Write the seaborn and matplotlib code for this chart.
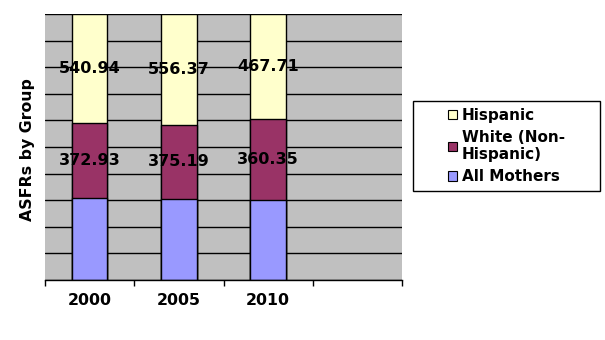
import matplotlib
matplotlib.use("Agg")
import matplotlib.pyplot as plt
from matplotlib.patches import Patch, Rectangle
import seaborn as sns
import pandas as pd
import numpy as np

years = ["2000", "2005", "2010"]
all_mothers = [404.0, 407.0, 359.0]
white_nh = [372.93, 375.19, 360.35]
hispanic = [540.94, 556.37, 467.71]
colors = {"All Mothers": "#9999FF", "White (Non-\nHispanic)": "#993366", "Hispanic": "#FFFFCC"}

sns.set_theme(style="white")
plt.rcParams["font.family"] = ["DejaVu Sans"]
plt.rcParams["font.weight"] = "bold"
plt.rcParams["text.color"] = "black"
plt.rcParams["xtick.color"] = "black"
plt.rcParams["ytick.color"] = "black"
plt.rcParams["axes.labelcolor"] = "black"

a = np.array(all_mothers)
w = np.array(white_nh)
h = np.array(hispanic)
tot = a + w + h
pa = a / tot
pw = w / tot
ph = h / tot

df = pd.DataFrame({
    "year": years * 3,
    "group": ["All Mothers"] * 3 + ["White (Non-\nHispanic)"] * 3 + ["Hispanic"] * 3,
    "cum": list(pa) + list(pa + pw) + list(pa + pw + ph),
})

fig = plt.figure(figsize=(6.05, 3.4), dpi=100)
ax = fig.add_axes([45 / 605, 1 - 280 / 340, 357 / 605, 266 / 340])
ax.set_facecolor("#C0C0C0")
ax.set_axisbelow(True)

for g in ["Hispanic", "White (Non-\nHispanic)", "All Mothers"]:
    sub = df[df["group"] == g]
    sns.barplot(data=sub, x="year", y="cum", order=years, color=colors[g],
                saturation=1, width=0.4, edgecolor="black", linewidth=1,
                ax=ax, errorbar=None)

ax.set_xlim(-0.5, 3.5)
ax.set_ylim(0, 1)
ax.set_yticks(np.arange(0, 1.01, 0.1))
ax.set_yticklabels([])
ax.tick_params(axis="y", length=0)
ax.yaxis.grid(True, color="black", linewidth=1)
ax.xaxis.grid(False)

ax.set_xticks([0, 1, 2])
ax.set_xticklabels(years, fontsize=11.3, fontweight="bold", color="black")
ax.tick_params(axis="x", which="major", length=0, pad=9.5)
ax.set_xticks([-0.5, 0.5, 1.5, 2.5, 3.5], minor=True)
ax.tick_params(axis="x", which="minor", bottom=True, length=4, width=1,
               color="black", direction="out")
ax.set_xlabel("")

for s in ["top", "right", "left"]:
    ax.spines[s].set_visible(False)
ax.spines["bottom"].set_color("black")
ax.spines["bottom"].set_linewidth(1)

ax.set_ylabel("ASFRs by Group", fontsize=11.3, fontweight="bold", color="black")
ax.yaxis.set_label_coords(-0.028, 0.49)

# data labels (White and Hispanic segments)
for i in range(len(years)):
    ax.text(i, pa[i] + pw[i] / 2, f"{white_nh[i]:.2f}", ha="center", va="center",
            fontsize=11.5, fontweight="bold", color="black")
    ax.text(i, pa[i] + pw[i] + ph[i] / 2, f"{hispanic[i]:.2f}", ha="center", va="center",
            fontsize=11.5, fontweight="bold", color="black")

# legend with custom frame
fig.patches.append(Rectangle((413 / 605, 1 - 191 / 340), 187 / 605, 90 / 340,
                             transform=fig.transFigure, facecolor="white",
                             edgecolor="black", linewidth=1))
handles = [Patch(facecolor=colors[n], edgecolor="black", linewidth=0.8)
           for n in ["Hispanic", "White (Non-\nHispanic)", "All Mothers"]]
leg = fig.legend(handles, ["Hispanic", "White (Non-\nHispanic)", "All Mothers"],
                 loc="center left", bbox_to_anchor=(434 / 605, 1 - 146 / 340),
                 frameon=False, handlelength=0.6, handleheight=0.6,
                 handletextpad=0.3, labelspacing=0.45,
                 prop={"size": 11, "weight": "bold"})

fig.savefig("out.png", dpi=100, facecolor="white")
